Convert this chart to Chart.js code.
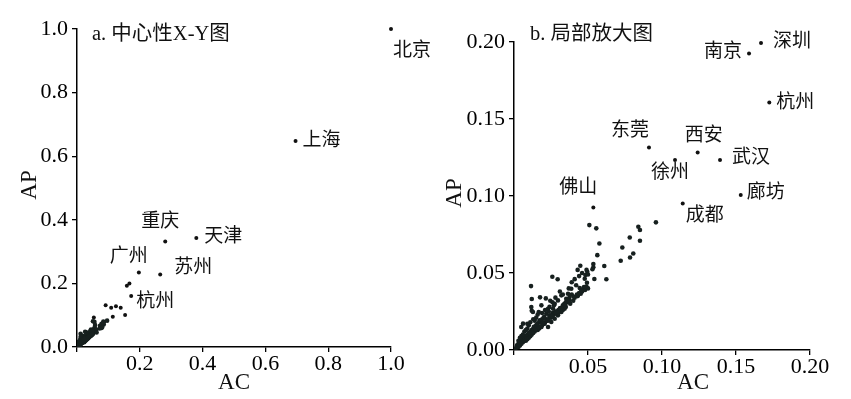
<!DOCTYPE html>
<html>
<head>
<meta charset="utf-8">
<script src="https://cdn.jsdelivr.net/npm/chart.js@4/dist/chart.umd.min.js"></script>
<style>
html,body{margin:0;padding:0;background:#fff;}
#wrap{position:relative;width:851px;height:399px;overflow:hidden;}
#ca{position:absolute;left:0;top:0;}
#cb{position:absolute;left:430px;top:0;}
</style>
</head>
<body>
<div id="wrap">
<canvas id="ca" width="430" height="399"></canvas>
<canvas id="cb" width="421" height="399"></canvas>
</div>
<script>
// ---------- DATA ----------
const cityNames = ['北京','上海','天津','重庆','苏州','广州','杭州','深圳','南京','东莞','西安','徐州','武汉','廊坊','成都','佛山'];
const cityAC    = [1.000,0.696,0.380,0.281,0.265,0.197,0.1725,0.1669,0.1588,0.0912,0.1241,0.1088,0.1392,0.1532,0.1140,0.0536];
const cityAP    = [1.000,0.648,0.343,0.332,0.228,0.234,0.1607,0.1994,0.1925,0.1315,0.1283,0.1233,0.1233,0.1006,0.0952,0.0926];

const otherAC = [
 0.0509,0.0556,0.0577,0.0563,0.0536,0.0536,0.0530,0.0610,0.0624,0.0543,0.0448,0.0495,0.0482,
 0.0959,0.0840,0.0851,0.0851,0.0782,0.0732,0.0806,0.0784,0.0721,
 0.0259,0.0295,0.0115,0.0176,0.0120,0.0120,
 0.0478,0.0493,0.0473,0.0420,0.0444,0.0460,0.0451,0.0432,0.0387,0.0365,0.0376,0.0353,0.0320,0.0297,0.0275,0.0264,
 0.0185,0.0167,0.0230,0.0218,0.0241,0.0117,0.0128,0.0061,0.0049,0.0174,0.0207,0.0185,0.0230,0.0252,0.0297,0.0320,0.0342,0.0275,
 0.0300,0.0330,0.0350,0.0380,0.0400,0.0410,0.0430,0.0440,0.0460,0.0470,0.0480,0.0490,0.0500,0.0390,0.0360,0.0340,0.0310,0.0280,0.0260,
 0.0215,0.0245,0.0280,0.0260,0.0310,0.0330,0.0370,0.0390,0.0410,0.0440,0.0430,0.0460,0.0490,0.0500,
 0.0010,0.0020,0.0020,0.0030,0.0030,0.0040,0.0040,0.0050,0.0050,0.0060,0.0060,0.0070,0.0070,0.0080,0.0080,0.0090,0.0090,0.0100,0.0100,
 0.0110,0.0110,0.0120,0.0120,0.0130,0.0130,0.0140,0.0140,0.0150,0.0150,0.0160,0.0160,0.0170,0.0170,0.0180,0.0180,0.0190,0.0190,0.0200,0.0200,
 0.0210,0.0220,0.0220,0.0230,0.0240,0.0240,0.0250,0.0260,0.0260,0.0270,0.0280,0.0290,0.0300,0.0320,0.0330,0.0340,0.0350,0.0360,0.0370,
 0.0030,0.0050,0.0070,0.0090,0.0060,0.0080,0.0100,0.0040,0.0110,0.0130,0.0150,0.0090,0.0140,0.0160,0.0190,0.0210,0.0240,0.0270,
 0.0125,0.0145,0.0165,0.0195,0.0225,0.0255,0.0285,0.0315,0.0345,0.0375,0.0405,0.0425,0.0455,0.0485,0.0105,0.0135,0.0155,0.0205,0.0235
];
const otherAP = [
 0.0811,0.0790,0.0692,0.0616,0.0558,0.0537,0.0524,0.0545,0.0459,0.0461,0.0547,0.0508,0.0487,
 0.0829,0.0800,0.0779,0.0709,0.0731,0.0666,0.0627,0.0601,0.0580,
 0.0476,0.0459,0.0415,0.0342,0.0331,0.0255,
 0.0463,0.0437,0.0409,0.0420,0.0402,0.0387,0.0365,0.0355,0.0398,0.0365,0.0344,0.0333,0.0355,0.0322,0.0300,0.0268,
 0.0290,0.0247,0.0268,0.0236,0.0225,0.0279,0.0247,0.0171,0.0149,0.0193,0.0171,0.0149,0.0149,0.0182,0.0225,0.0247,0.0268,0.0203,
 0.0240,0.0260,0.0280,0.0300,0.0320,0.0340,0.0350,0.0370,0.0380,0.0400,0.0390,0.0410,0.0400,0.0360,0.0310,0.0290,0.0270,0.0250,0.0230,
 0.0335,0.0320,0.0340,0.0310,0.0380,0.0360,0.0400,0.0440,0.0460,0.0480,0.0520,0.0500,0.0520,0.0490,
 0.0010,0.0020,0.0030,0.0020,0.0040,0.0030,0.0050,0.0040,0.0060,0.0050,0.0070,0.0060,0.0080,0.0060,0.0090,0.0070,0.0100,0.0080,0.0110,
 0.0090,0.0120,0.0100,0.0130,0.0110,0.0140,0.0120,0.0150,0.0130,0.0160,0.0130,0.0170,0.0140,0.0180,0.0150,0.0190,0.0160,0.0200,0.0170,0.0210,
 0.0180,0.0190,0.0200,0.0190,0.0210,0.0220,0.0210,0.0220,0.0240,0.0230,0.0240,0.0250,0.0260,0.0270,0.0290,0.0300,0.0310,0.0320,0.0330,
 0.0060,0.0090,0.0120,0.0140,0.0100,0.0130,0.0160,0.0080,0.0180,0.0200,0.0210,0.0170,0.0190,0.0230,0.0240,0.0260,0.0280,0.0290,
 0.0115,0.0135,0.0150,0.0175,0.0195,0.0220,0.0245,0.0270,0.0295,0.0320,0.0345,0.0360,0.0385,0.0410,0.0110,0.0150,0.0165,0.0215,0.0250
];

const ticksA = [0,0.2,0.4,0.6,0.8,1.0];
const ticksB = [0,0.05,0.10,0.15,0.20];

// labels to show per panel
const labelsA = ['北京','上海','天津','重庆','苏州','广州','杭州'];
const labelsB = ['深圳','南京','杭州','东莞','西安','徐州','武汉','廊坊','成都','佛山'];

// ---------- STYLE / PLACEMENT ----------
const placeA = {
 '北京':{dx:2,dy:22,align:'left'}, '上海':{dx:7,dy:0,align:'left'}, '天津':{dx:8,dy:-1,align:'left'},
 '重庆':{dx:-5,dy:-19,align:'center'}, '苏州':{dx:14,dy:-6,align:'left'}, '广州':{dx:-10,dy:-16,align:'center'},
 '杭州':{dx:5,dy:6,align:'left'}
};
const placeB = {
 '深圳':{dx:12,dy:-1,align:'left'}, '南京':{dx:-7,dy:-2,align:'right'}, '杭州':{dx:7,dy:0,align:'left'},
 '东莞':{dx:-19,dy:-16,align:'center'}, '西安':{dx:6,dy:-16,align:'center'}, '徐州':{dx:-5,dy:13,align:'center'},
 '武汉':{dx:12,dy:-2,align:'left'}, '廊坊':{dx:6,dy:-2,align:'left'}, '成都':{dx:3,dy:13,align:'left'},
 '佛山':{dx:-15,dy:-19,align:'center'}
};
const SERIF = "'Liberation Serif','Times New Roman','Noto Sans CJK SC',serif";
const CJK = "'Liberation Serif','Noto Sans CJK SC',serif";

function buildPoints(){
  const pts = [];
  for (let i=0;i<otherAC.length;i++) pts.push({x:otherAC[i], y:otherAP[i]});
  return pts;
}
function cityPoints(){
  return cityNames.map((n,i)=>({x:cityAC[i], y:cityAP[i]}));
}

function makeChart(id, cfg){
  const textPlugin = {
    id:'txt'+id,
    afterDatasetsDraw(chart){
      const ctx = chart.ctx, ca = chart.chartArea;
      const xs = chart.scales.x, ys = chart.scales.y;
      ctx.save();
      ctx.fillStyle = '#111';
      ctx.textBaseline = 'middle';
      ctx.font = '19px ' + CJK;
      cfg.labels.forEach(n=>{
        const i = cityNames.indexOf(n);
        const p = cfg.place[n];
        const px = xs.getPixelForValue(cityAC[i]);
        const py = ys.getPixelForValue(cityAP[i]);
        ctx.textAlign = p.align;
        ctx.fillText(n, px + p.dx, py + p.dy);
      });
      // panel title
      ctx.textAlign = 'left';
      ctx.textBaseline = 'alphabetic';
      ctx.font = '20.5px ' + CJK;
      ctx.fillText(cfg.title, ca.left + cfg.titleDx, cfg.titleY);
      // axis titles
      ctx.font = '23px ' + SERIF;
      ctx.textAlign = 'center';
      ctx.textBaseline = 'middle';
      ctx.fillText('AC', (ca.left+ca.right)/2 + cfg.acDx, 383);
      ctx.save();
      ctx.translate(cfg.apX, (ca.top+ca.bottom)/2 - 3);
      ctx.rotate(-Math.PI/2);
      ctx.fillText('AP', 0, 0);
      ctx.restore();
      ctx.restore();
    }
  };
  return new Chart(document.getElementById(id), {
    type:'scatter',
    data:{datasets:[
      {data:buildPoints(), pointRadius:2.3, pointBackgroundColor:'#17201f', pointBorderWidth:0, pointHoverRadius:2.3},
      {data:cityPoints(), pointRadius:2.0, pointBackgroundColor:'#111', pointBorderWidth:0, pointHoverRadius:2.0, clip:4}
    ]},
    options:{
      responsive:false, animation:false, devicePixelRatio:1,
      layout:{padding:{left:0, right:cfg.padRight, top:cfg.padTop, bottom:0}},
      plugins:{legend:{display:false}, tooltip:{enabled:false}},
      scales:{
        x:{type:'linear', min:0, max:cfg.max,
           afterBuildTicks(s){ s.ticks = cfg.ticks.map(v=>({value:v})); },
           afterFit(s){ s.height = cfg.xH; },
           grid:{drawOnChartArea:false, drawTicks:true, tickLength:5, color:'#000', lineWidth:1.3},
           border:{display:true, color:'#000', width:1.5},
           ticks:{autoSkip:false, maxRotation:0, color:'#000', padding:-1,
             font:{family:SERIF, size:22},
             callback:(v)=> v===0 ? '' : v.toFixed(cfg.dec)}},
        y:{type:'linear', min:0, max:cfg.max,
           afterBuildTicks(s){ s.ticks = cfg.ticks.map(v=>({value:v})); },
           afterFit(s){ s.width = cfg.yW; },
           grid:{drawOnChartArea:false, drawTicks:true, tickLength:5, color:'#000', lineWidth:1.3},
           border:{display:true, color:'#000', width:1.5},
           ticks:{autoSkip:false, color:'#000', padding:4,
             font:{family:SERIF, size:22},
             callback:(v)=> v.toFixed(cfg.dec)}}
      }
    },
    plugins:[textPlugin]
  });
}

makeChart('ca', {max:1.0, ticks:ticksA, dec:1, labels:labelsA, place:placeA,
  padRight:39, padTop:29, xH:52, yW:77, title:'a. 中心性X-Y图', titleDx:15, titleY:40, acDx:0, apX:30});
makeChart('cb', {max:0.20, ticks:ticksB, dec:2, labels:labelsB, place:placeB,
  padRight:41, padTop:42, xH:49, yW:84, title:'b. 局部放大图', titleDx:16, titleY:40, acDx:31, apX:25});
</script>
</body>
</html>
